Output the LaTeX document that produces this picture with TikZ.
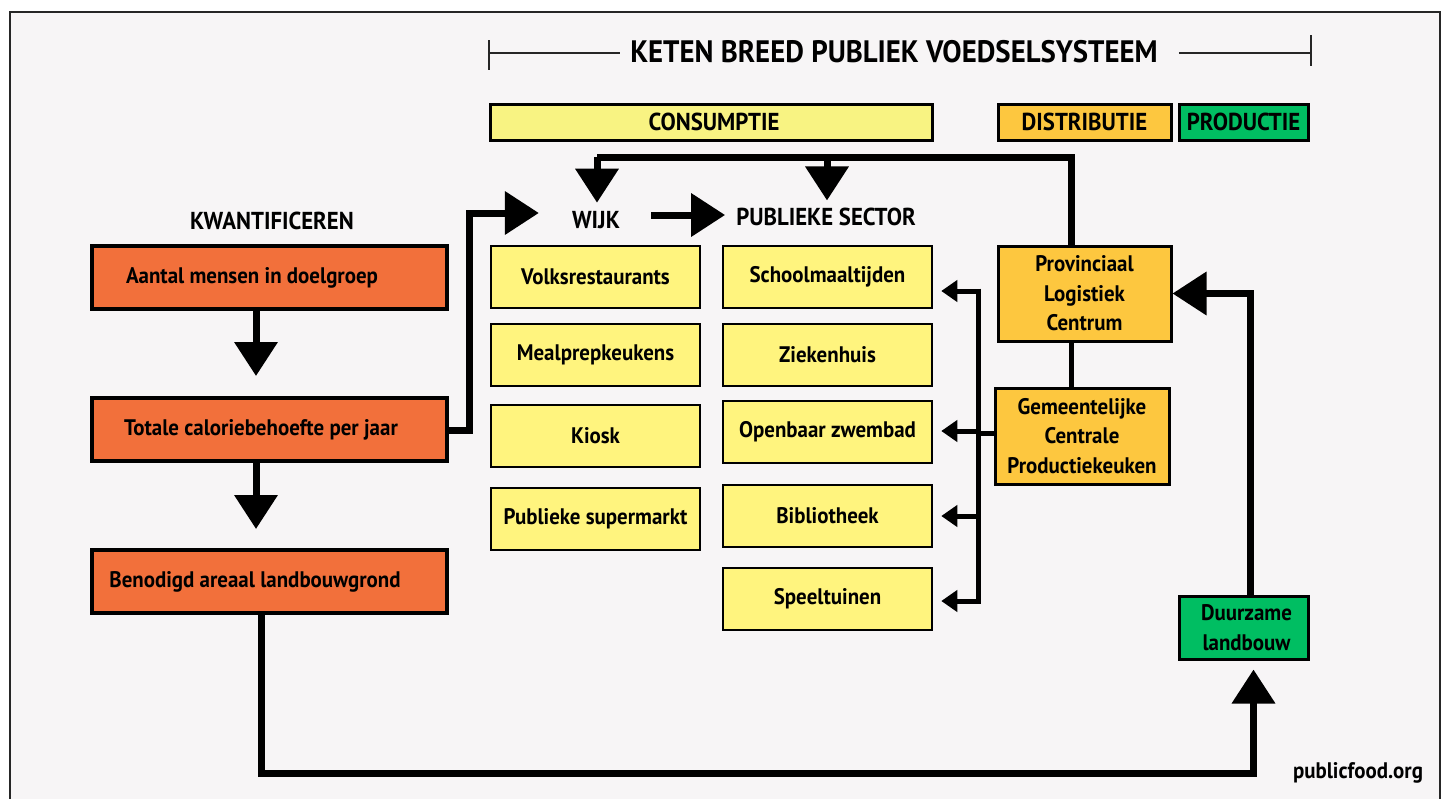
\documentclass[tikz,border=0pt]{standalone}
\usepackage{fontspec}
\setmainfont{PT Sans}[FakeStretch=0.93]
\usetikzlibrary{arrows.meta}
\definecolor{bgc}{HTML}{F7F5F6}
\definecolor{orng}{HTML}{F2703B}
\definecolor{ylw}{HTML}{FFF47E}
\definecolor{ybar}{HTML}{F8F382}
\definecolor{dist}{HTML}{FDC73F}
\definecolor{grn}{HTML}{00BE62}
\begin{document}
\begin{tikzpicture}[x=1pt,y=-1pt,
  box/.style={draw=black, rectangle, inner sep=0pt, align=center,
    font=\bfseries\fontsize{22.5}{29.5}\selectfont},
  obox/.style={box, fill=orng, line width=4pt, minimum width=355pt, minimum height=63pt},
  ybox/.style={box, fill=ylw, line width=2.5pt, minimum width=209pt, minimum height=62pt},
  bar/.style={box, line width=3pt, minimum height=36pt, font=\bfseries\fontsize{24.5}{28}\selectfont},
  dbox/.style={box, fill=dist, line width=3pt},
  head/.style={inner sep=0pt, font=\bfseries\fontsize{24.5}{28}\selectfont},
  bigarrow/.style={line width=7pt, line join=miter, -{Triangle[length=34pt,width=42pt]}},
  bigline/.style={line width=7pt, line join=miter},
  midline/.style={line width=5pt, line join=miter},
  smallarrow/.style={line width=5pt, -{Triangle[length=16pt,width=21pt]}},
  thin/.style={line width=1.6pt, draw=black!85}
]
\useasboundingbox (0,0) rectangle (1448,798);
\fill[white] (0,0) rectangle (1448,798);
\draw[line width=2.2pt, draw=black!85, fill=bgc] (10,12) rectangle (1440,810);

% title
\node[inner sep=0pt, font=\bfseries\fontsize{31}{35}\selectfont] (title) at (894,52) {KETEN BREED PUBLIEK VOEDSELSYSTEEM};
\coordinate (bl) at (489,53);
\coordinate (br) at (1311,53);
\draw[thin] ([yshift=13pt]bl) -- ([yshift=-17pt]bl);
\draw[thin] (bl) -- ([xshift=-10pt]title.west |- bl);
\draw[thin] ([xshift=21pt]title.east |- br) -- (br);
\draw[thin] ([yshift=18pt]br) -- ([yshift=-13pt]br);

% bars
\node[bar, fill=ybar, minimum width=442pt] (cons) at (711,122) {\hspace{6pt}CONSUMPTIE};
\node[bar, fill=dist, minimum width=173pt] (distr) at (1084.5,122) {DISTRIBUTIE};
\node[bar, fill=grn, minimum width=129pt] (prod) at (1243.5,122) {PRODUCTIE};

% left column
\node[head] (kw) at (272,221) {KWANTIFICEREN};
\node[obox] (aantal) at (269.5,277.5) {Aantal mensen in doelgroep\hspace{35pt}};
\node[obox] (totale) at (269.5,429.5) {Totale caloriebehoefte per jaar\hspace{17pt}};
\node[obox] (benod) at (269.5,581.5) {Benodigd areaal landbouwgrond\hspace{29pt}};

% consumption headers
\node[head] (wijk) at (596,220) {WIJK};
\node[head] (publ) at (826,217) {PUBLIEKE SECTOR};

% wijk boxes
\node[ybox] (volks) at (595.5,277) {Volksrestaurants};
\node[ybox] (meal) at (595.5,355) {Mealprepkeukens};
\node[ybox] (kiosk) at (595.5,436) {Kiosk};
\node[ybox] (super) at (595.5,519) {Publieke supermarkt};

% publieke sector boxes
\node[ybox] (school) at (827.5,277) {Schoolmaaltijden};
\node[ybox] (zieken) at (827.5,355) {Ziekenhuis};
\node[ybox] (zwem) at (827.5,432) {Openbaar zwembad};
\node[ybox] (bieb) at (827.5,516) {Bibliotheek};
\node[ybox] (speel) at (827.5,599) {Speeltuinen};

% distribution / production
\node[dbox, minimum width=173pt, minimum height=95pt] (plc) at (1084.5,293.5) {Provinciaal\\Logistiek\\Centrum};
\node[dbox, minimum width=174pt, minimum height=96pt] (gem) at (1082,436) {Gemeentelijke\\Centrale\\Productiekeuken};
\node[box, fill=grn, line width=3pt, minimum width=129pt, minimum height=63pt] (duur) at (1243.5,627.5) {\hspace{6pt}Duurzame\\\hspace{6pt}landbouw};

\node[inner sep=0pt, font=\bfseries\fontsize{22.5}{26}\selectfont] (pf) at (1358,773) {publicfood.org};

% connectors: kwantificeren
\draw[bigarrow] ([xshift=-13.5pt]aantal.south) -- ([xshift=-13.5pt,yshift=20pt]totale.north);
\draw[bigarrow] ([xshift=-13.5pt]totale.south) -- ([xshift=-13.5pt,yshift=19pt]benod.north);
\coordinate (bot) at (261,773);
\draw[bigarrow] ([xshift=-8.5pt]benod.south) -- (bot) -| ([xshift=10pt,yshift=-9pt]duur.south);

% totale -> wijk
\coordinate (tw) at (469,213);
\draw[bigarrow] ([yshift=-1pt]totale.east) -| (tw) -- ([xshift=-33pt]wijk.west |- tw);
\draw[bigarrow] ([xshift=31pt,yshift=5pt]wijk.east) -- ([xshift=-11pt,yshift=5pt]publ.west |- wijk.east);

% plc -> wijk / publieke sector
\coordinate (tl) at (597,157);
\coordinate (tm) at (827,157);
\draw[bigline] ([xshift=-13.5pt]plc.north) |- (tl);
\draw[bigarrow] (tl) -- ([xshift=1pt,yshift=8.4pt]wijk.north);
\draw[bigarrow] (tm) -- ([xshift=1pt,yshift=7.4pt]publ.north);

% plc -> gem
\draw[midline] ([xshift=-13.5pt]plc.south) -- ([xshift=-11pt]gem.north);

% bus
\coordinate (busT) at (978,291);
\coordinate (busB) at (978,601);
\draw[midline] ([yshift=2.5pt]busT) -- ([yshift=-2.5pt]busB);
\draw[midline] ([yshift=3pt]gem.west) -- ([yshift=3pt]gem.west -| busT);
\draw[smallarrow] ([xshift=2pt]busT) -- ([xshift=8pt]busT -| school.east);
\draw[smallarrow] ([yshift=1pt]zwem.east -| busT) -- ([xshift=8pt,yshift=1pt]zwem.east);
\draw[smallarrow] (bieb.east -| busT) -- ([xshift=8pt]bieb.east);
\draw[smallarrow] ([xshift=2pt]busB) -- ([xshift=8pt]busB -| speel.east);

% duurzame -> plc
\draw[bigarrow] ([xshift=6.5pt]duur.north) |- (plc.east);
\end{tikzpicture}
\end{document}
